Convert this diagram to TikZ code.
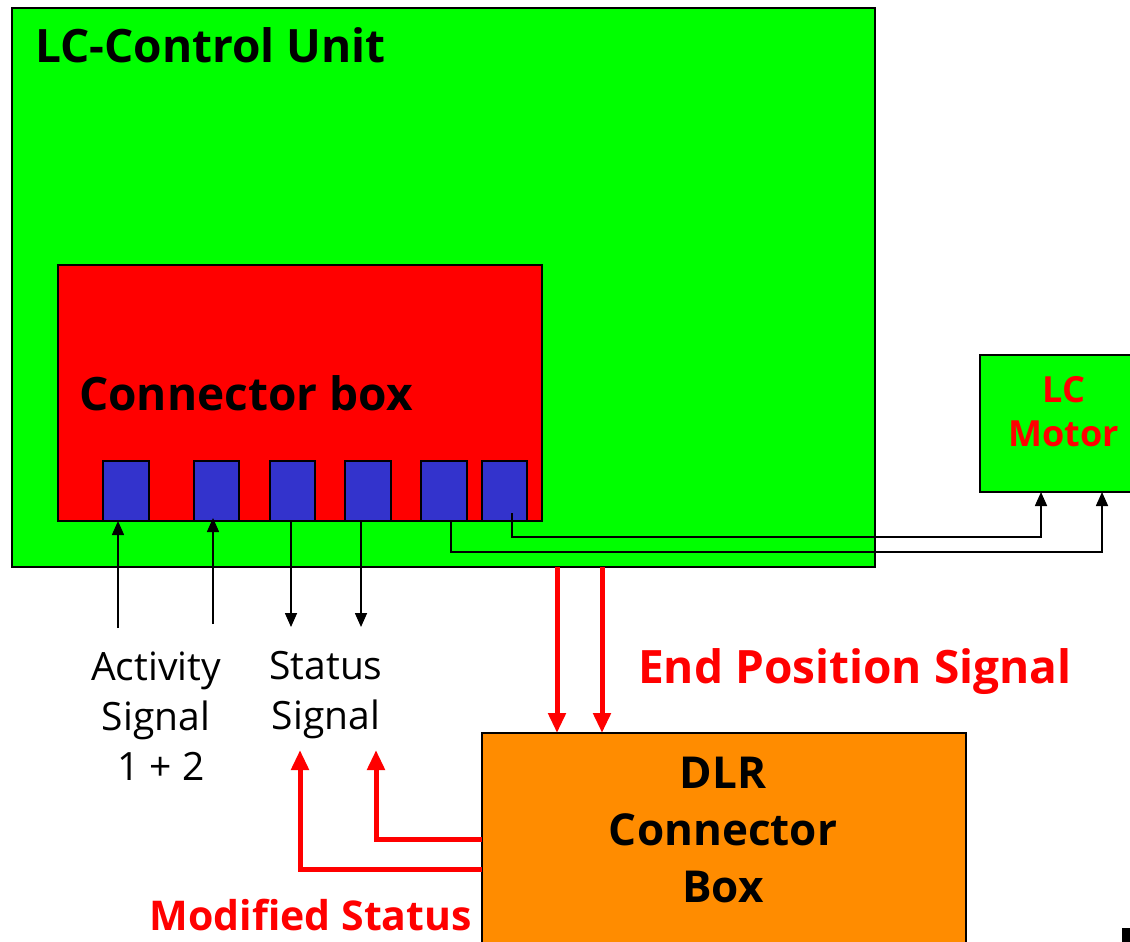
\documentclass[tikz,border=0pt]{standalone}
\usepackage{fontspec}
\setmainfont{Open Sans}
\usetikzlibrary{arrows.meta,calc}
\definecolor{cgreen}{RGB}{0,255,0}
\definecolor{cred}{RGB}{255,0,0}
\definecolor{cblue}{RGB}{51,51,204}
\definecolor{corange}{RGB}{255,140,0}
\tikzset{
  box/.style={draw=black, line width=2pt, inner sep=0pt, outer sep=0pt, anchor=north west},
  pin/.style={box, fill=cblue, minimum width=46pt, minimum height=60pt},
  blk/.style={draw=black, line width=1.6pt, -{Triangle[width=12pt,length=14pt]}},
  redarr/.style={draw=cred, line width=5pt, -{Triangle[width=17pt,length=20pt]}},
  redlbl/.style={text=cred, inner sep=0pt},
  blklbl/.style={text=black, font=\fontsize{39}{50}\selectfont, align=center, inner sep=0pt},
}
\begin{document}
\begin{tikzpicture}[x=1pt,y=-1pt]
\useasboundingbox (0,0) rectangle (1130,942);
\fill[white] (0,0) rectangle (1130,942);
% LC control unit
\node[box, fill=cgreen, minimum width=863pt, minimum height=559pt] (cu) at (12,8) {};
\node[anchor=base west, inner sep=0pt, font=\bfseries\fontsize{46}{52}\selectfont] (cutitle) at (35,63) {LC-Control Unit};
% connector box
\node[box, fill=cred, minimum width=484pt, minimum height=256pt] (cb) at (58,265) {};
\node[anchor=base west, inner sep=0pt, font=\bfseries\fontsize{46}{52}\selectfont] (cbtitle) at (79,410) {Connector box};
% pins
\node[pin] (p1) at (103,461) {};
\node[pin, minimum width=45pt] (p2) at (194,461) {};
\node[pin, minimum width=45pt] (p3) at (270,461) {};
\node[pin] (p4) at (345,461) {};
\node[pin] (p5) at (421,461) {};
\node[pin, minimum width=45pt] (p6) at (482,461) {};
% LC motor
\node[box, fill=cgreen, minimum width=160pt, minimum height=137pt] (motor) at (980,355) {};
\node[text=cred, font=\bfseries\fontsize{36}{44}\selectfont, align=center, inner sep=0pt] (motortxt) at (1064,412) {LC\\Motor};
% DLR connector box
\node[box, fill=corange, minimum width=484pt, minimum height=230pt] (dlr) at (482,733) {};
\node[font=\bfseries\fontsize{44}{57}\selectfont, align=center, inner sep=0pt] (dlrtxt) at (723,830) {DLR\\Connector\\Box};
% labels
\node[blklbl] (act) at (156,716) {Activity\\Signal\\\ 1 + 2};
\node[blklbl] (stat) at (326,695) {Status\\Signal};
\node[redlbl, anchor=base west, font=\bfseries\fontsize{46}{52}\selectfont] (endpos) at (638,683) {End Position Signal};
\node[redlbl, anchor=base east, font=\bfseries\fontsize{41}{48}\selectfont] (modst) at (472,930) {Modified Status};
% black signal arrows
\coordinate (a1) at (118,628);
\coordinate (a2) at (213,624);
\coordinate (s1) at (291,521);
\coordinate (s2) at (361,521);
\coordinate (mx6) at (1041,537);
\coordinate (mx5) at (1102,552);
\draw[blk] (a1) -- (a1 |- p1.south);
\draw[blk] (a2) -- ($(a2 |- p2.south)+(0,-3)$);
\draw[blk] (s1) -- (291,627);
\draw[blk] (s2) -- (361,627);
% motor lines
\coordinate (m6) at (512,513);
\coordinate (m5) at (451,521);
\draw[blk] (m6) |- (mx6) -- (mx6 |- motor.south);
\draw[blk] (m5) |- (mx5) -- (mx5 |- motor.south);
% end position arrows
\coordinate (e1) at (557,567);
\coordinate (e2) at (602,567);
\draw[redarr] (e1) -- (e1 |- dlr.north);
\draw[redarr] (e2) -- (e2 |- dlr.north);
% modified status arrows
\coordinate (r1) at (482,839);
\coordinate (r2) at (482,869);
\draw[redarr] (r1) -| (376,750);
\draw[redarr] (r2) -| (300,750);
% small mark
\fill[black] (1122,928) rectangle (1130,942);
\end{tikzpicture}
\end{document}
